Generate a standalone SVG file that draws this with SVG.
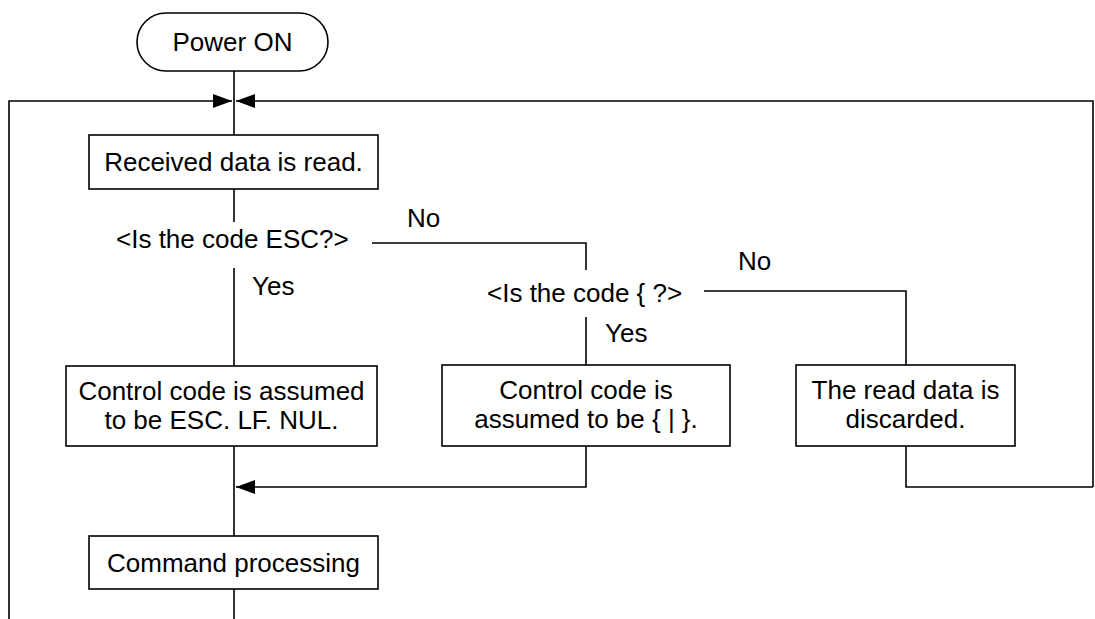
<svg xmlns="http://www.w3.org/2000/svg" width="1095" height="619" viewBox="0 0 1095 619">
<defs>
<style>
.box{fill:#fff;stroke:#000;stroke-width:1.6}
.ln{fill:none;stroke:#000;stroke-width:1.6}
text{font-family:"Liberation Sans",Arial,sans-serif;font-size:26px;fill:#000}
.c{text-anchor:middle}
</style>
<marker id="ah" markerUnits="userSpaceOnUse" markerWidth="20" markerHeight="14" refX="19" refY="7" orient="auto">
<path d="M0,0 L19,7 L0,14 Z" fill="#000"/>
</marker>
</defs>
<rect width="1095" height="619" fill="#fff"/>
<g id="connectors">
<path class="ln" d="M234,71 V135"/>
<path class="ln" d="M9,619 V101 H232" marker-end="url(#ah)"/>
<path class="ln" d="M1093,487 V101 H236" marker-end="url(#ah)"/>
<path class="ln" d="M234,189 V222"/>
<path class="ln" d="M234,268 V366"/>
<path class="ln" d="M372,243 H586 V270"/>
<path class="ln" d="M586,317 V365"/>
<path class="ln" d="M704,291 H906 V365"/>
<path class="ln" d="M234,446 V536"/>
<path class="ln" d="M586,446 V487 H236" marker-end="url(#ah)"/>
<path class="ln" d="M906,446 V487 H1093"/>
<path class="ln" d="M234,589 V619"/>
<text x="407" y="227">No</text>
<text x="738" y="270">No</text>
<text x="252" y="295">Yes</text>
<text x="605" y="342">Yes</text>
</g>
<g id="power-on">
<rect class="box" x="137" y="13" width="191" height="58" rx="29" ry="29"/>
<text class="c" x="232.5" y="51">Power ON</text>
</g>
<g id="read">
<rect class="box" x="89" y="135" width="289" height="54"/>
<text class="c" x="233.5" y="171">Received data is read.</text>
</g>
<g id="decision-esc">
<text x="116" y="248">&lt;Is the code ESC?&gt;</text>
</g>
<g id="decision-brace">
<text x="487" y="302">&lt;Is the code { ?&gt;</text>
</g>
<g id="esc-box">
<rect class="box" x="66" y="366" width="311" height="80"/>
<text class="c" x="221.5" y="400">Control code is assumed</text>
<text class="c" x="221.5" y="429">to be ESC. LF. NUL.</text>
</g>
<g id="brace-box">
<rect class="box" x="442" y="365" width="288" height="81"/>
<text class="c" x="586" y="399">Control code is</text>
<text class="c" x="586" y="428">assumed to be { | }.</text>
</g>
<g id="discard-box">
<rect class="box" x="796" y="365" width="219" height="81"/>
<text class="c" x="905.5" y="399">The read data is</text>
<text class="c" x="905.5" y="428">discarded.</text>
</g>
<g id="command">
<rect class="box" x="89" y="536" width="289" height="53"/>
<text class="c" x="233.5" y="572">Command processing</text>
</g>
</svg>
